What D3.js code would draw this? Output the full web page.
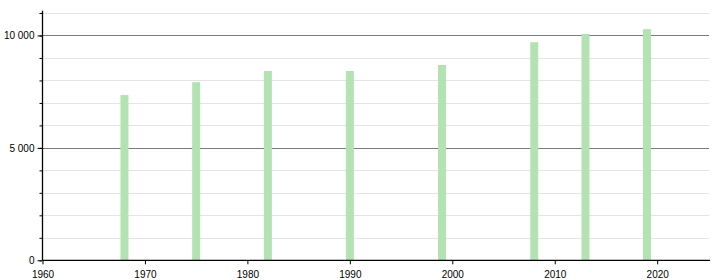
<!DOCTYPE html>
<html>
<head>
<meta charset="utf-8">
<script src="https://cdn.jsdelivr.net/npm/d3@7"></script>
<style>
  body { margin: 0; background: #fff; }
  text { font-family: "Liberation Sans", Arial, sans-serif; font-size: 10px; fill: #000; }
</style>
</head>
<body>
<div class="chart"></div>
<script>
// Données
const years = [1968, 1975, 1982, 1990, 1999, 2008, 2013, 2019];
const population = [7350, 7920, 8420, 8420, 8690, 9700, 10070, 10280];
const yearTicks = [1960, 1970, 1980, 1990, 2000, 2010, 2020];
const majorTicks = [0, 5000, 10000];
const minorTicks = d3.range(0, 11001, 1000);

const width = 720;
const height = 280;
const margin = { top: 10.75, right: 10, bottom: 19.7, left: 42.5 };

const svg = d3
  .select(".chart")
  .append("svg")
  .attr("width", width)
  .attr("height", height);

// échelles
const x = d3.scaleLinear().domain([1960, 2020]).range([margin.left, 657.2]);
const y = d3.scaleLinear().domain([0, 11100]).range([height - margin.bottom, margin.top]);

// lignes de grille mineures
svg
  .append("g")
  .selectAll("line")
  .data(minorTicks.filter((d) => d % 5000 !== 0))
  .enter()
  .append("line")
  .attr("x1", margin.left)
  .attr("x2", 709)
  .attr("y1", (d) => Math.round(y(d)) + 0.5)
  .attr("y2", (d) => Math.round(y(d)) + 0.5)
  .attr("stroke", "#e4e4e4")
  .attr("stroke-width", 1);

// lignes de grille majeures
svg
  .append("g")
  .selectAll("line")
  .data(majorTicks.filter((d) => d > 0))
  .enter()
  .append("line")
  .attr("x1", margin.left)
  .attr("x2", 709)
  .attr("y1", (d) => Math.round(y(d)) + 0.5)
  .attr("y2", (d) => Math.round(y(d)) + 0.5)
  .attr("stroke", "#7a7a7a")
  .attr("stroke-width", 1);

// barres
svg
  .append("g")
  .selectAll("rect")
  .data(years)
  .enter()
  .append("rect")
  .attr("x", (d) => x(d) - 4)
  .attr("width", 8)
  .attr("y", (d, i) => y(population[i]))
  .attr("height", (d, i) => y(0) - y(population[i]))
  .attr("fill", "#b3e2b3");

// axe y : graduations mineures
svg
  .append("g")
  .attr("transform", "translate(" + margin.left + ",0)")
  .call(d3.axisLeft(y).tickValues(minorTicks).tickSize(3).tickFormat(""))
  .call((g) => g.select(".domain").remove())
  .call((g) => g.selectAll("line").attr("stroke", "#000"));

// axe y : graduations majeures avec étiquettes (espace comme séparateur de milliers)
const fmt = (d) => d3.format(",")(d).replace(/,/g, " ");
svg
  .append("g")
  .attr("transform", "translate(" + margin.left + ",0)")
  .call(d3.axisLeft(y).tickValues(majorTicks).tickSize(5).tickPadding(3).tickFormat(fmt))
  .call((g) => g.select(".domain").remove())
  .call((g) => g.selectAll("line").attr("stroke", "#000"))
  .call((g) => g.selectAll("text").attr("font-family", null).attr("font-size", null));

// ligne de l'axe y
svg
  .append("line")
  .attr("x1", margin.left)
  .attr("x2", margin.left)
  .attr("y1", margin.top)
  .attr("y2", y(0))
  .attr("stroke", "#000")
  .attr("stroke-width", 1.3);

// axe x
svg
  .append("g")
  .attr("transform", "translate(0," + y(0) + ")")
  .call(d3.axisBottom(x).tickValues(yearTicks).tickSize(4).tickPadding(6.5).tickFormat(d3.format("d")))
  .call((g) => g.select(".domain").attr("d", "M" + margin.left + ",0H710").attr("stroke-width", 1.3))
  .call((g) => g.selectAll("text").attr("font-family", null).attr("font-size", null));
</script>
</body>
</html>
